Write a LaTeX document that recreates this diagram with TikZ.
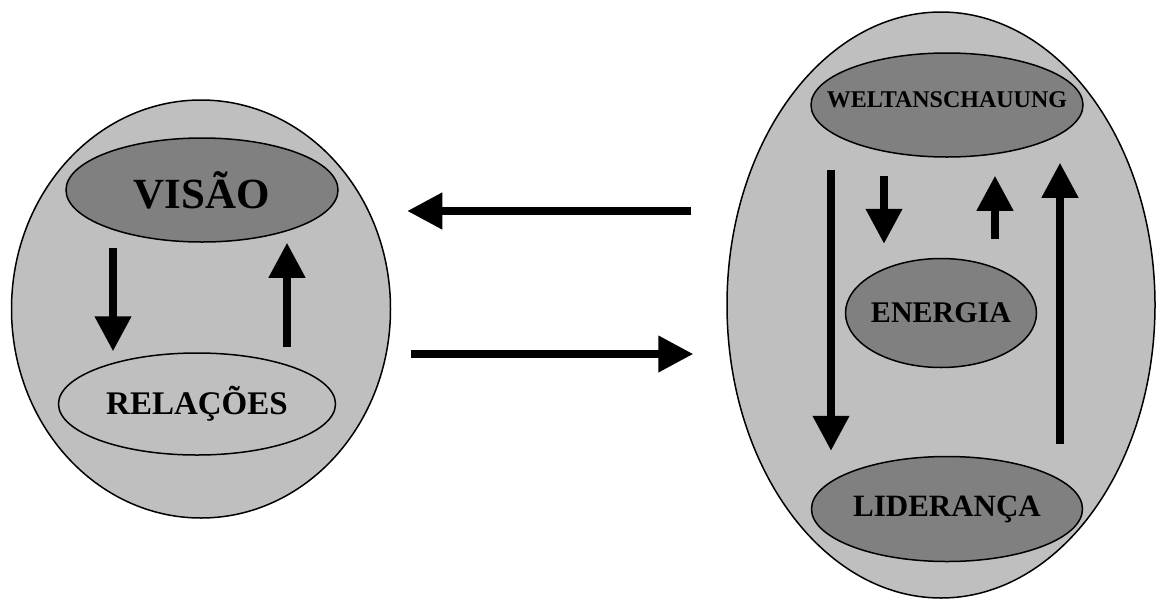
\documentclass[tikz,border=0pt]{standalone}
\usepackage{fontspec}
\setmainfont{Liberation Serif}
\usetikzlibrary{shapes.geometric,arrows.meta,calc}

\definecolor{shellgray}{gray}{0.75}
\definecolor{coregray}{gray}{0.5}

\begin{document}
\begin{tikzpicture}[x=1pt,y=-1pt,
                              blob/.style={ellipse,draw,line width=1.5pt,fill=shellgray,inner sep=0pt},
                              core/.style={blob,fill=coregray},
                              word/.style={font=\bfseries\fontsize{#1}{#1}\selectfont},
                              fat/.style={line width=7.5pt,-{Triangle[width=35pt,length=35pt]}}]
                              \useasboundingbox (0,0) rectangle (1156,600);

                              % Left cycle
                              \node[blob,minimum width=379,minimum height=418] (left) at (201,309) {};
                              \node[core,minimum width=272,minimum height=104,
                                    label={[word=43]center:VISÃO}] (visao) at (202,190) {};
                              \node[blob,minimum width=277,minimum height=102,
                                    label={[word=33]center:RELAÇÕES}] (relacoes) at (197,404) {};
                              \draw[fat] ($(visao.south)+(-89,5)$) -- ($(relacoes.north)+(-84,-1)$);
                              \draw[fat] ($(relacoes.north)+(90,-5)$) -- ($(visao.south)+(85,0)$);

                              % Right cycle
                              \node[blob,minimum width=428,minimum height=586] (right) at (941,305) {};
                              \node[core,minimum width=272,minimum height=104,
                                    label={[word=24,yshift=5pt]center:WELTANSCHAUUNG}] (welt) at (947,105) {};
                              \node[core,minimum width=191,minimum height=109,
                                    label={[word=30]center:ENERGIA}] (energia) at (941,313) {};
                              \node[core,minimum width=271,minimum height=105,
                                    label={[word=31]center:LIDERANÇA}] (lideranca) at (947,509) {};
                              \draw[fat] ($(welt.south)+(-116,12)$) -- ($(lideranca.north)+(-116,-5)$);
                              \draw[fat] ($(welt.south)+(-63,18)$) -- ($(energia.north)+(-57,-14)$);
                              \draw[fat] ($(energia.north)+(54,-19)$) -- ($(welt.south)+(48,18)$);
                              \draw[fat] ($(lideranca.north)+(113,-12)$) -- ($(welt.south)+(113,5)$);

                              % Between the two
                              \draw[fat] ($(right.west)+(-35,-94)$) -- ($(left.east)+(16,-98)$);
                              \draw[fat] ($(left.east)+(20,45)$) -- ($(right.west)+(-33,49)$);
                        \end{tikzpicture}
\end{document}
